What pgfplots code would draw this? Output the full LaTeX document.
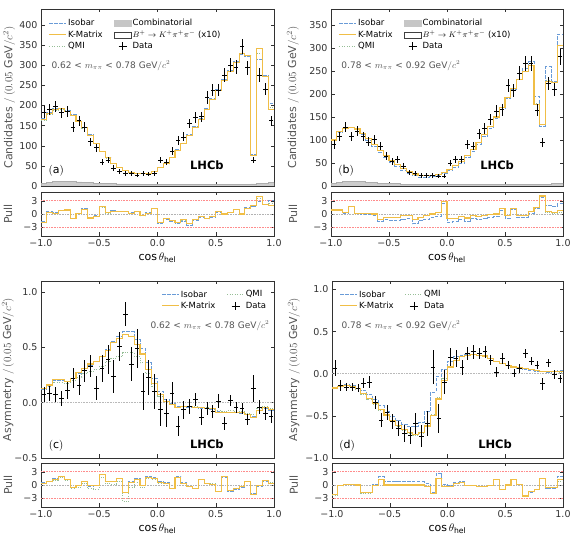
\documentclass[border=0pt]{standalone}
\usepackage{pgfplots}
\pgfplotsset{compat=1.18}
\usepackage{pgfplotstable}
\usepackage{fontspec}
\setmainfont{DejaVu Sans}

\definecolor{isoc}{RGB}{105,155,215}
\definecolor{kmc}{RGB}{240,190,70}
\definecolor{qmc}{RGB}{150,190,150}
\definecolor{framec}{RGB}{50,50,50}
\definecolor{labc}{RGB}{85,85,85}

\pgfplotstableread{
x d e k i q c pk pi pq
-1.00 184 14 165 167 163 6 -1.9 -1.8 -2.0
-0.95 190 14 180 182 178 9 0.4 0.5 0.3
-0.90 197 14 190 192 188 11 0.2 0.3 0.1
-0.85 182 13 192 194 190 12 0.75 0.8 0.7
-0.80 186 14 186 188 185 12 0.9 1.0 0.8
-0.75 147 12 176 177 175 11 -1.0 -0.9 -1.1
-0.70 162 13 161 162 160 10 0.15 0.2 0.1
-0.65 147 12 145 146 144 9 1.1 1.2 1.0
-0.60 110 10 126 127 125 8 -0.9 -0.8 -1.0
-0.55 95 10 106 107 105 7 -0.5 -0.4 -0.6
-0.50 60 8 86 87 85 7 1.65 1.7 1.6
-0.45 64 8 70 71 69 6 0.3 0.4 0.2
-0.40 45 7 56 57 55 6 0.6 0.7 0.5
-0.35 37 6 46 46 45 5 0.5 0.6 0.5
-0.30 31 6 38 38 38 5 0.5 0.6 0.5
-0.25 32 6 33 33 33 5 0.2 0.3 0.2
-0.20 27 5 30 30 30 5 0.5 0.5 0.5
-0.15 31 6 30 30 30 4 -0.4 -0.3 -0.4
-0.10 29 5 32 32 32 4 0.2 0.3 0.2
-0.05 31 6 36 36 36 4 1.3 1.2 1.3
0.00 64 8 45 46 45 4 -2.0 -2.2 -2.0
0.05 60 8 55 56 55 4 -1.1 -1.3 -1.1
0.10 87 9 70 71 70 3 -1.5 -1.7 -1.5
0.15 114 11 88 90 88 3 -2.0 -2.2 -2.0
0.20 122 11 105 107 105 3 -1.35 -1.6 -1.4
0.25 155 12 125 128 125 3 -2.1 -2.5 -2.1
0.30 170 13 145 147 145 3 -1.3 -1.5 -1.3
0.35 172 13 165 167 165 3 -0.6 -0.8 -0.6
0.40 220 15 190 192 190 3 -1.0 -1.1 -1.0
0.45 238 15 215 217 215 3 -0.6 -0.7 -0.6
0.50 238 15 238 240 238 3 0.5 0.4 0.5
0.55 276 17 262 264 262 3 0.0 -0.1 0.0
0.60 300 17 285 287 285 3 0.4 0.3 0.4
0.65 296 17 308 310 308 3 1.1 1.0 1.1
0.70 346 19 330 328 330 3 0.0 0.2 0.0
0.75 294 17 325 322 325 4 1.35 1.5 1.35
0.80 64 8 76 79 77 5 2.0 1.8 2.0
0.85 276 17 342 315 330 6 4.0 2.8 3.5
0.90 240 15 273 275 272 7 2.1 2.2 2.1
0.95 162 13 190 205 195 8 2.0 3.0 2.5
1.00 162 13 190 205 195 8 2.0 3.0 2.5
}\tabA

\pgfplotstableread{
x d e k i q c pk pi pq
-1.00 91 9.5 100 98 100 5 0.9 0.9 0.9
-0.95 108 10.4 118 116 118 7 0.9 0.9 0.9
-0.90 128 11.3 126 125 126 9 0.3 0.2 0.3
-0.85 108 10.4 128 127 128 10 1.8 1.7 1.8
-0.80 119 10.9 124 123 124 10 0.2 0.1 0.2
-0.75 108 10.4 115 113 115 9 0.2 0.0 0.2
-0.70 96 9.8 103 100 103 8 0.1 -0.1 0.1
-0.65 101 10 90 87 90 7 0.0 -0.3 0.0
-0.60 87 9.3 78 74 78 6 -1.3 -1.7 -1.3
-0.55 65 8.1 66 62 66 6 -0.8 -1.3 -0.8
-0.50 54 7.3 55 51 55 5 -0.8 -1.4 -0.8
-0.45 57 7.5 46 42 46 5 -0.7 -1.5 -0.7
-0.40 43 6.6 38 34 38 4 -0.3 -1.2 -0.3
-0.35 30 5.5 31 27 31 4 -0.3 -1.1 -0.3
-0.30 28 5.3 26 22 26 4 -1.3 -2.2 -1.3
-0.25 23 4.8 23 19 23 3 -0.7 -1.5 -0.7
-0.20 23 4.8 22 19 22 3 -0.4 -1.2 -0.4
-0.15 23 4.8 23 20 23 3 0.0 -0.8 0.0
-0.10 21 4.6 25 22 25 3 0.3 -0.5 0.3
-0.05 21 4.6 30 27 30 3 2.9 2.5 2.9
0.00 50 7.1 36 33 36 3 -1.0 -2.0 -1.0
0.05 58 7.6 44 41 44 3 -1.0 -1.8 -1.0
0.10 58 7.6 54 50 54 3 -0.6 -1.3 -0.6
0.15 90 9.5 66 62 66 3 -0.9 -1.6 -0.9
0.20 87 9.3 80 76 80 3 -0.4 -1.1 -0.4
0.25 114 10.7 95 91 95 3 -0.6 -1.3 -0.6
0.30 125 11.2 112 108 112 3 -0.4 -1.1 -0.4
0.35 144 12 130 126 130 3 -0.2 -0.8 -0.2
0.40 163 12.8 150 146 150 3 0.0 -0.6 0.0
0.45 166 12.9 170 166 170 3 1.2 0.8 1.2
0.50 219 14.8 192 190 192 3 -0.4 -0.9 -0.4
0.55 208 14.4 212 210 212 3 1.3 1.0 1.3
0.60 246 15.7 232 232 232 3 -0.3 -0.8 -0.3
0.65 266 16.3 250 255 250 3 -0.3 -0.8 -0.3
0.70 266 16.3 262 270 262 4 0.5 0.2 0.5
0.75 165 12.8 178 194 180 4 1.5 1.2 1.5
0.80 94 9.7 134 130 134 4 4.1 3.8 4.1
0.85 223 14.9 227 259 230 4 0.6 2.0 0.3
0.90 210 14.5 225 227 225 5 0.4 1.8 0.2
0.95 281 16.8 305 330 305 6 0.8 2.3 0.3
1.00 281 16.8 305 330 305 6 0.8 2.3 0.3
}\tabB

\pgfplotstableread{
x d e k i q pk pi pq
-1.00 0.073 0.07 0.13 0.12 0.12 0.4 0.5 0.3
-0.95 0.082 0.07 0.16 0.15 0.15 0.8 0.9 0.7
-0.90 0.076 0.07 0.21 0.20 0.18 1.3 1.4 1.1
-0.85 0.036 0.07 0.21 0.20 0.18 1.9 2.0 1.7
-0.80 0.11 0.08 0.19 0.19 0.17 1.3 1.3 1.1
-0.75 0.22 0.09 0.22 0.22 0.20 -0.6 -0.5 -0.8
-0.70 0.16 0.09 0.27 0.26 0.23 -0.2 -0.2 -0.5
-0.65 0.29 0.10 0.31 0.31 0.26 0.8 0.8 0.4
-0.60 0.33 0.10 0.35 0.34 0.28 -0.2 -0.3 -0.8
-0.55 0.13 0.11 0.37 0.37 0.30 -0.2 -0.2 -0.9
-0.50 0.31 0.12 0.42 0.42 0.33 2.3 2.4 1.8
-0.45 0.39 0.13 0.47 0.48 0.37 0.8 0.9 0.3
-0.40 0.24 0.15 0.54 0.55 0.40 0.8 0.9 0.2
-0.35 0.51 0.13 0.58 0.60 0.42 1.5 1.6 0.8
-0.30 0.80 0.11 0.62 0.64 0.45 -1.8 -1.6 -3.8
-0.25 0.35 0.15 0.60 0.64 0.45 0.6 0.8 -0.5
-0.20 0.49 0.18 0.53 0.57 0.42 1.2 1.4 0.6
-0.15 0.10 0.17 0.44 0.49 0.36 -0.2 0.0 -0.5
-0.10 0.23 0.16 0.30 0.36 0.26 1.8 2.0 1.5
-0.05 0.10 0.16 0.17 0.22 0.15 1.5 1.7 1.3
0.00 -0.064 0.15 0.07 0.10 0.06 0.5 0.7 0.4
0.05 -0.094 0.13 0.01 0.03 0.01 0.4 0.5 0.4
0.10 0.088 0.10 -0.02 -0.01 -0.02 -0.8 -0.7 -0.8
0.15 -0.21 0.09 -0.04 -0.03 -0.03 1.8 1.9 1.8
0.20 -0.064 0.08 -0.035 -0.03 -0.03 0.4 0.5 0.4
0.25 -0.033 0.07 -0.035 -0.04 -0.03 -0.4 -0.4 -0.3
0.30 0.027 0.06 -0.04 -0.04 -0.03 -0.8 -0.8 -0.7
0.35 -0.13 0.07 -0.04 -0.05 -0.04 1.3 1.2 1.3
0.40 -0.055 0.06 -0.05 -0.05 -0.04 0.4 0.3 0.4
0.45 -0.08 0.06 -0.055 -0.06 -0.05 0.2 0.2 0.3
0.50 0.015 0.06 -0.085 -0.08 -0.07 -1.5 -1.4 -1.4
0.55 -0.19 0.06 -0.09 -0.09 -0.08 1.9 1.8 2.0
0.60 0.02 0.05 -0.085 -0.09 -0.07 -1.3 -1.4 -1.2
0.65 -0.04 0.05 -0.085 -0.09 -0.08 -0.8 -0.9 -0.7
0.70 -0.055 0.05 -0.09 -0.10 -0.08 -0.4 -0.5 -0.3
0.75 -0.15 0.05 -0.11 -0.11 -0.10 0.8 0.8 0.9
0.80 0.13 0.12 -0.13 -0.12 -0.11 -2.1 -2.0 -2.0
0.85 -0.04 0.06 -0.07 -0.07 -0.05 -0.2 -0.3 -0.1
0.90 -0.10 0.06 -0.04 -0.05 -0.03 1.0 0.9 1.1
0.95 -0.125 0.06 -0.06 -0.07 -0.05 0.4 0.3 0.5
1.00 -0.125 0.06 -0.06 -0.07 -0.05 0.4 0.3 0.5
}\tabC

\pgfplotstableread{
x d e k i q pk pi pq
-1.00 0.067 0.10 -0.17 -0.17 -0.17 -2.2 -2.2 -2.3
-0.95 -0.14 0.06 -0.15 -0.15 -0.15 -0.2 -0.2 -0.2
-0.90 -0.16 0.05 -0.14 -0.13 -0.14 0.15 0.2 0.1
-0.85 -0.16 0.05 -0.15 -0.14 -0.15 0.15 0.2 0.1
-0.80 -0.17 0.05 -0.18 -0.17 -0.19 0.0 0.1 -0.1
-0.75 -0.11 0.06 -0.24 -0.20 -0.25 -1.8 -1.7 -1.9
-0.70 -0.10 0.07 -0.29 -0.25 -0.30 -1.8 -1.7 -1.9
-0.65 -0.34 0.08 -0.35 -0.31 -0.36 -0.2 0.1 -0.2
-0.60 -0.55 0.08 -0.42 -0.38 -0.43 1.3 1.9 1.3
-0.55 -0.46 0.09 -0.49 -0.45 -0.50 0.0 0.8 0.0
-0.50 -0.57 0.09 -0.55 -0.51 -0.56 0.0 0.8 0.0
-0.45 -0.65 0.09 -0.61 -0.56 -0.62 0.0 0.8 0.0
-0.40 -0.71 0.10 -0.66 -0.60 -0.67 0.0 0.8 0.0
-0.35 -0.73 0.10 -0.70 -0.63 -0.71 0.0 0.8 0.0
-0.30 -0.59 0.12 -0.72 -0.63 -0.73 0.0 0.7 0.0
-0.25 -0.74 0.13 -0.70 -0.58 -0.71 0.0 0.7 0.0
-0.20 -0.59 0.15 -0.62 -0.45 -0.63 -0.4 0.4 -0.4
-0.15 0.08 0.20 -0.50 -0.22 -0.48 -1.9 -1.6 -1.9
-0.10 -0.53 0.17 -0.30 -0.03 -0.28 1.5 2.6 1.6
-0.05 -0.10 0.14 -0.08 0.05 -0.06 -0.4 0.2 -0.3
0.00 0.20 0.11 0.08 0.15 0.09 -0.4 -0.2 -0.4
0.05 0.18 0.10 0.16 0.20 0.16 0.4 0.6 0.4
0.10 0.07 0.09 0.20 0.22 0.20 0.5 0.7 0.5
0.15 0.24 0.08 0.22 0.23 0.22 -0.2 -0.1 -0.2
0.20 0.26 0.08 0.23 0.23 0.23 -0.2 -0.2 -0.2
0.25 0.24 0.07 0.22 0.22 0.22 -0.4 -0.4 -0.4
0.30 0.26 0.07 0.21 0.21 0.21 -0.4 -0.4 -0.4
0.35 0.16 0.06 0.18 0.18 0.18 -0.2 -0.2 -0.2
0.40 0.02 0.06 0.15 0.15 0.15 1.2 1.2 1.2
0.45 0.18 0.06 0.12 0.12 0.12 -1.0 -1.0 -1.0
0.50 0.10 0.05 0.10 0.10 0.10 0.0 0.0 0.0
0.55 0.01 0.05 0.08 0.08 0.08 1.2 1.2 1.2
0.60 0.06 0.05 0.07 0.06 0.07 0.15 0.1 0.2
0.65 0.24 0.05 0.06 0.05 0.06 -2.5 -2.6 -2.4
0.70 0.15 0.05 0.05 0.04 0.05 -1.5 -1.6 -1.4
0.75 0.10 0.05 0.04 0.03 0.04 -1.0 -1.1 -0.9
0.80 -0.12 0.07 0.03 0.03 0.03 1.5 1.4 1.6
0.85 0.13 0.05 0.03 0.02 0.03 -0.6 -0.7 -0.5
0.90 -0.01 0.05 0.03 0.03 0.03 -0.6 -0.7 -0.5
0.95 -0.06 0.05 0.03 0.04 0.02 1.2 2.0 0.8
1.00 -0.06 0.05 0.03 0.04 0.02 1.2 2.0 0.8
}\tabD

\pgfplotsset{
  base/.style={scale only axis, xmin=-1, xmax=1,
    axis line style={framec, line width=0.6pt},
    tick style={framec, line width=0.5pt},
    tick align=inside, xtick pos=both, ytick pos=both,
    major tick length=3.5pt,
    xtick={-1,-0.5,0,0.5,1},
    tick label style={font=\fontsize{9.5}{11}\selectfont, color=framec},
    /pgf/number format/assume math mode=true,
    ylabel style={font=\fontsize{11}{13}\selectfont, color=labc, anchor=center},
  },
  main/.style={base, xticklabel=\empty, height=177pt},
  pull/.style={base, ymin=-5, ymax=5, ytick={-3,0,3}, yticklabels={−3,0,3},
    xticklabels={−1.0,−0.5,0.0,0.5,1.0}, height=44pt, ylabel={Pull},
    xlabel={$\cos\theta_{\mathrm{hel}}$}, xlabel style={font=\fontsize{11}{13}\selectfont, yshift=1pt}},
  isoL/.style={isoc, line width=0.9pt, dash pattern=on 3.5pt off 1.5pt},
  kmL/.style={kmc, line width=1.1pt},
  qmL/.style={qmc, line width=0.9pt, dash pattern=on 1pt off 1.5pt},
  dat/.style={draw=none, mark=none, forget plot,
    error bars/.cd, y dir=both, y explicit, x dir=both, x fixed=0.02,
    error mark=none, error bar style={draw=black, solid, line width=0.7pt}},
  leg/.style={legend columns=2, legend cell align=left,
    legend style={draw=none, fill=none, font=\fontsize{8.5}{10}\selectfont,
      row sep=1pt, nodes={inner sep=1.2pt},
      /tikz/every even column/.append style={column sep=10pt}}},
}

\newcommand{\bdecay}{$B^{+}\rightarrow K^{+}\pi^{+}\pi^{-}$ (x10)}

\begin{document}
\begin{tikzpicture}
\useasboundingbox (0pt,0pt) rectangle (573pt,538pt);

% ---------------- (a) ----------------
\begin{axis}[main, at={(41pt,352pt)}, anchor=south west, width=233pt,
  ymin=0, ymax=440, ytick={0,50,...,400},
  ylabel={Candidates $/\,(0.05\ \mathrm{GeV}/c^2)$},
  ylabel style={at={(axis description cs:-0.137,0.5)}},
  leg, legend style={at={(0.02,0.96)}, anchor=north west}]
\addlegendimage{isoL}\addlegendentry{Isobar}
\addlegendimage{area legend, fill=gray!45, draw=gray!45}\addlegendentry{Combinatorial}
\addlegendimage{kmL}\addlegendentry{K-Matrix}
\addlegendimage{area legend, fill=white, draw=black!75}\addlegendentry{\bdecay}
\addlegendimage{qmL}\addlegendentry{QMI}
\addlegendimage{only marks, mark=+, mark size=4pt, black, line width=0.7pt}\addlegendentry{Data}
\addplot[const plot, fill=gray!40, draw=gray!65, line width=0.8pt, forget plot] table[x=x,y=c]{\tabA} \closedcycle;
\addplot[const plot, qmL, forget plot] table[x=x,y=q]{\tabA};
\addplot[const plot, isoL, forget plot] table[x=x,y=i]{\tabA};
\addplot[const plot, kmL, forget plot] table[x=x,y=k]{\tabA};
\addplot[dat] table[x expr=\thisrow{x}+0.025, y=d, y error=e, skip coords between index={40}{41}]{\tabA};
\node[anchor=west, font=\fontsize{9}{11}\selectfont, color=labc] at (rel axis cs:0.03,0.678) {0.62 < $m_{\pi\pi}$ < 0.78 $\mathrm{GeV}/c^2$};
\node[font=\fontsize{11}{13}\selectfont] at (rel axis cs:0.065,0.085) {$(\mathrm{a})$};
\node[font=\bfseries\fontsize{11.5}{13}\selectfont] at (rel axis cs:0.712,0.12) {LHCb};
\end{axis}

\begin{axis}[pull, at={(41pt,302pt)}, anchor=south west, width=233pt,
  ylabel style={at={(axis description cs:-0.142,0.5)}}]
\addplot[red!45, densely dotted, line width=0.6pt] coordinates {(-1,3) (1,3)};
\addplot[red!45, densely dotted, line width=0.6pt] coordinates {(-1,-3) (1,-3)};
\addplot[gray!60, densely dotted, line width=0.6pt] coordinates {(-1,0) (1,0)};
\addplot[const plot, qmL] table[x=x,y=pq]{\tabA};
\addplot[const plot, isoL] table[x=x,y=pi]{\tabA};
\addplot[const plot, kmL] table[x=x,y=pk]{\tabA};
\end{axis}

% ---------------- (b) ----------------
\begin{axis}[main, at={(331pt,352pt)}, anchor=south west, width=232pt,
  ymin=0, ymax=385, ytick={0,50,...,350},
  ylabel={Candidates $/\,(0.05\ \mathrm{GeV}/c^2)$},
  ylabel style={at={(axis description cs:-0.164,0.5)}},
  leg, legend style={at={(0.02,0.96)}, anchor=north west}]
\addlegendimage{isoL}\addlegendentry{Isobar}
\addlegendimage{area legend, fill=gray!45, draw=gray!45}\addlegendentry{Combinatorial}
\addlegendimage{kmL}\addlegendentry{K-Matrix}
\addlegendimage{area legend, fill=white, draw=black!75}\addlegendentry{\bdecay}
\addlegendimage{qmL}\addlegendentry{QMI}
\addlegendimage{only marks, mark=+, mark size=4pt, black, line width=0.7pt}\addlegendentry{Data}
\addplot[const plot, fill=gray!40, draw=gray!65, line width=0.8pt, forget plot] table[x=x,y=c]{\tabB} \closedcycle;
\addplot[const plot, qmL, forget plot] table[x=x,y=q]{\tabB};
\addplot[const plot, isoL, forget plot] table[x=x,y=i]{\tabB};
\addplot[const plot, kmL, forget plot] table[x=x,y=k]{\tabB};
\addplot[dat] table[x expr=\thisrow{x}+0.025, y=d, y error=e, skip coords between index={40}{41}]{\tabB};
\node[anchor=west, font=\fontsize{9}{11}\selectfont, color=labc] at (rel axis cs:0.03,0.678) {0.78 < $m_{\pi\pi}$ < 0.92 $\mathrm{GeV}/c^2$};
\node[font=\fontsize{11}{13}\selectfont] at (rel axis cs:0.065,0.085) {$(\mathrm{b})$};
\node[font=\bfseries\fontsize{11.5}{13}\selectfont] at (rel axis cs:0.716,0.12) {LHCb};
\end{axis}

\begin{axis}[pull, at={(331pt,302pt)}, anchor=south west, width=232pt,
  ylabel style={at={(axis description cs:-0.164,0.5)}}]
\addplot[red!45, densely dotted, line width=0.6pt] coordinates {(-1,3) (1,3)};
\addplot[red!45, densely dotted, line width=0.6pt] coordinates {(-1,-3) (1,-3)};
\addplot[gray!60, densely dotted, line width=0.6pt] coordinates {(-1,0) (1,0)};
\addplot[const plot, qmL] table[x=x,y=pq]{\tabB};
\addplot[const plot, isoL] table[x=x,y=pi]{\tabB};
\addplot[const plot, kmL] table[x=x,y=pk]{\tabB};
\end{axis}

% ---------------- (c) ----------------
\begin{axis}[main, at={(41pt,80pt)}, anchor=south west, width=233pt,
  ymin=-0.5, ymax=1.1, ytick={-0.5,0,0.5,1}, yticklabels={−0.5,0.0,0.5,1.0},
  ylabel={Asymmetry $/\,(0.05\ \mathrm{GeV}/c^2)$},
  ylabel style={at={(axis description cs:-0.142,0.5)}},
  leg, legend style={at={(0.985,0.965)}, anchor=north east}]
\addlegendimage{isoL}\addlegendentry{Isobar}
\addlegendimage{qmL}\addlegendentry{QMI}
\addlegendimage{kmL}\addlegendentry{K-Matrix}
\addlegendimage{only marks, mark=+, mark size=4pt, black, line width=0.7pt}\addlegendentry{Data}
\addplot[gray!55, densely dotted, line width=0.6pt, forget plot] coordinates {(-1,0) (1,0)};
\addplot[const plot, qmL, forget plot] table[x=x,y=q]{\tabC};
\addplot[const plot, isoL, forget plot] table[x=x,y=i]{\tabC};
\addplot[const plot, kmL, forget plot] table[x=x,y=k]{\tabC};
\addplot[dat] table[x expr=\thisrow{x}+0.025, y=d, y error=e, skip coords between index={40}{41}]{\tabC};
\node[anchor=east, font=\fontsize{9}{11}\selectfont, color=labc] at (rel axis cs:0.995,0.746) {0.62 < $m_{\pi\pi}$ < 0.78 $\mathrm{GeV}/c^2$};
\node[font=\fontsize{11}{13}\selectfont] at (rel axis cs:0.065,0.07) {$(\mathrm{c})$};
\node[font=\bfseries\fontsize{11.5}{13}\selectfont] at (rel axis cs:0.712,0.08) {LHCb};
\end{axis}

\begin{axis}[pull, at={(41pt,31pt)}, anchor=south west, width=233pt,
  ylabel style={at={(axis description cs:-0.142,0.5)}}]
\addplot[red!45, densely dotted, line width=0.6pt] coordinates {(-1,3) (1,3)};
\addplot[red!45, densely dotted, line width=0.6pt] coordinates {(-1,-3) (1,-3)};
\addplot[gray!60, densely dotted, line width=0.6pt] coordinates {(-1,0) (1,0)};
\addplot[const plot, qmL] table[x=x,y=pq]{\tabC};
\addplot[const plot, isoL] table[x=x,y=pi]{\tabC};
\addplot[const plot, kmL] table[x=x,y=pk]{\tabC};
\end{axis}

% ---------------- (d) ----------------
\begin{axis}[main, at={(332pt,80pt)}, anchor=south west, width=231pt,
  ymin=-1, ymax=1.1, ytick={-1,-0.5,0,0.5,1}, yticklabels={−1.0,−0.5,0.0,0.5,1.0},
  ylabel={Asymmetry $/\,(0.05\ \mathrm{GeV}/c^2)$},
  ylabel style={at={(axis description cs:-0.165,0.5)}},
  leg, legend style={at={(0.02,0.965)}, anchor=north west}]
\addlegendimage{isoL}\addlegendentry{Isobar}
\addlegendimage{qmL}\addlegendentry{QMI}
\addlegendimage{kmL}\addlegendentry{K-Matrix}
\addlegendimage{only marks, mark=+, mark size=4pt, black, line width=0.7pt}\addlegendentry{Data}
\addplot[gray!55, densely dotted, line width=0.6pt, forget plot] coordinates {(-1,0) (1,0)};
\addplot[const plot, qmL, forget plot] table[x=x,y=q]{\tabD};
\addplot[const plot, isoL, forget plot] table[x=x,y=i]{\tabD};
\addplot[const plot, kmL, forget plot] table[x=x,y=k]{\tabD};
\addplot[dat] table[x expr=\thisrow{x}+0.025, y=d, y error=e, skip coords between index={40}{41}]{\tabD};
\node[anchor=west, font=\fontsize{9}{11}\selectfont, color=labc] at (rel axis cs:0.026,0.746) {0.78 < $m_{\pi\pi}$ < 0.92 $\mathrm{GeV}/c^2$};
\node[font=\fontsize{11}{13}\selectfont] at (rel axis cs:0.065,0.07) {$(\mathrm{d})$};
\node[font=\bfseries\fontsize{11.5}{13}\selectfont] at (rel axis cs:0.706,0.08) {LHCb};
\end{axis}

\begin{axis}[pull, at={(332pt,31pt)}, anchor=south west, width=231pt,
  ylabel style={at={(axis description cs:-0.165,0.5)}}]
\addplot[red!45, densely dotted, line width=0.6pt] coordinates {(-1,3) (1,3)};
\addplot[red!45, densely dotted, line width=0.6pt] coordinates {(-1,-3) (1,-3)};
\addplot[gray!60, densely dotted, line width=0.6pt] coordinates {(-1,0) (1,0)};
\addplot[const plot, qmL] table[x=x,y=pq]{\tabD};
\addplot[const plot, isoL] table[x=x,y=pi]{\tabD};
\addplot[const plot, kmL] table[x=x,y=pk]{\tabD};
\end{axis}
\end{tikzpicture}
\end{document}
